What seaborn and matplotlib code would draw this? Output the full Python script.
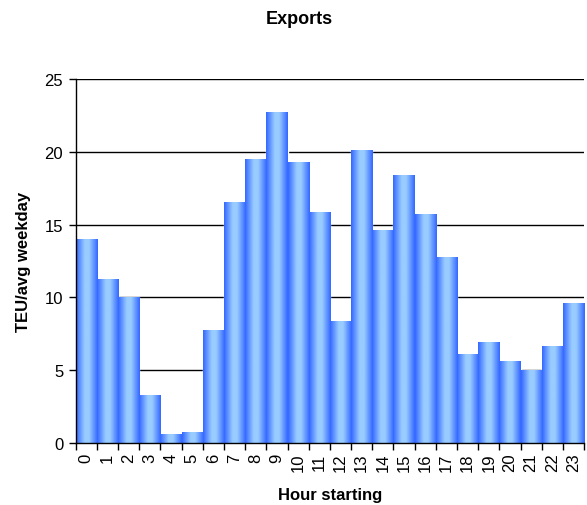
import numpy as np
import matplotlib
matplotlib.use("Agg")
import matplotlib.pyplot as plt
from matplotlib.colors import LinearSegmentedColormap
import seaborn as sns
import pandas as pd

hours = [str(h) for h in range(24)]
teu = [14.0, 11.26, 10.02, 3.33, 0.64, 0.78, 7.74, 16.57, 19.53, 22.70, 19.30, 15.88,
       8.36, 20.15, 14.64, 18.43, 15.74, 12.78, 6.09, 6.92, 5.61, 4.99, 6.64, 9.60]
yticks = [0, 5, 10, 15, 20, 25]

df = pd.DataFrame({'hour': hours, 'teu': teu})

sns.set_style('white')
plt.rcParams['font.family'] = ['Liberation Sans', 'DejaVu Sans']
plt.rcParams['text.color'] = 'black'
plt.rcParams['axes.labelcolor'] = 'black'
plt.rcParams['xtick.color'] = 'black'
plt.rcParams['ytick.color'] = 'black'

fig = plt.figure(figsize=(5.87, 5.06), dpi=100)
ax = fig.add_axes([0.129, 0.1225, 0.866, 0.7195])

sns.barplot(data=df, x='hour', y='teu', color='#3366FF', width=1.0,
            saturation=1, ax=ax, zorder=3)

# cylinder style gradient, clipped to each bar
cmap = LinearSegmentedColormap.from_list(
    'bar', ['#3366FF', '#6699FF', '#99CCFF', '#99CCFF', '#6699FF', '#3366FF'])
grad = np.linspace(0, 1, 256).reshape(1, -1)
for p in ax.patches:
    x0, w, h = p.get_x(), p.get_width(), p.get_height()
    im = ax.imshow(grad, cmap=cmap, aspect='auto', extent=(x0, x0 + w, 0, h),
                   zorder=4)
    im.set_clip_path(p)

ax.set_xlim(-0.5, 23.5)
ax.set_ylim(0, 25)
ax.set_yticks(yticks)
for y in yticks[1:]:
    ax.axhline(y, color='black', lw=1, zorder=2)

for s in ['top', 'right']:
    ax.spines[s].set_visible(False)
for s in ['left', 'bottom']:
    ax.spines[s].set_color('black')
    ax.spines[s].set_linewidth(1)
    ax.spines[s].set_zorder(5)

ax.set_xticks(range(24))
ax.set_xticklabels(hours, rotation=90, fontsize=12)
ax.set_xticks(np.arange(-0.5, 24, 1), minor=True)
ax.tick_params(axis='x', which='major', length=0, pad=7)
ax.tick_params(axis='x', which='minor', length=5, width=1, color='black',
               direction='out', bottom=True)
ax.tick_params(axis='y', length=5, width=1, color='black', direction='out',
               left=True, labelsize=12, pad=4)

ax.set_xlabel('Hour starting', fontsize=12, fontweight='bold', labelpad=11)
ax.set_ylabel('TEU/avg weekday', fontsize=12, fontweight='bold', labelpad=10)
fig.suptitle('Exports', fontsize=13, fontweight='bold', x=0.51, y=0.978)

fig.savefig('out.png', dpi=100)
